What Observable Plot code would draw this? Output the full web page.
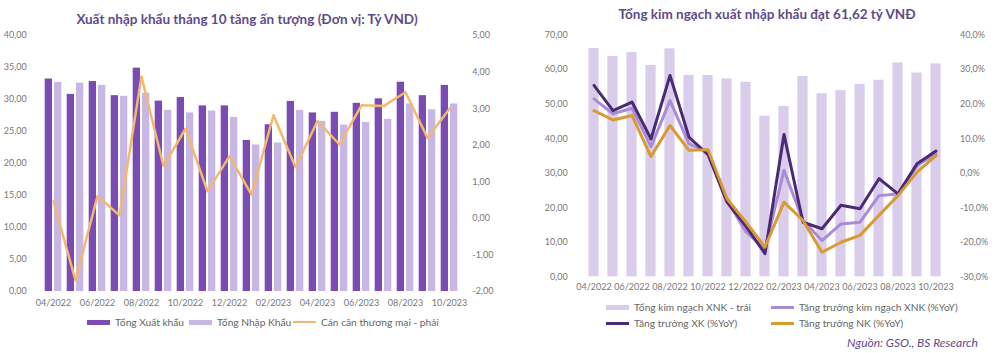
<!DOCTYPE html>
<html><head><meta charset="utf-8">
<script src="https://cdn.jsdelivr.net/npm/d3@7"></script>
<script src="https://cdn.jsdelivr.net/npm/@observablehq/plot@0.6"></script>
<style>
body{margin:0;background:#fff;font-family:Lato,"Open Sans",sans-serif;}
#wrap{position:relative;width:1000px;height:353px;overflow:hidden;background:#fff;}
.abs{position:absolute;}
.title{font-weight:700;font-size:13.5px;color:#5F4B8B;white-space:nowrap;transform:translateX(-50%);}
.leg{font-size:10.2px;color:#666;white-space:nowrap;display:flex;align-items:center;}
.sw{display:inline-block;width:23px;height:5px;margin-right:5px;}
.ln{display:inline-block;width:23px;height:2px;margin-right:5px;}
.src{font-size:12px;font-style:italic;color:#5F4B8B;white-space:nowrap;}
svg text{font-family:Lato,"Open Sans",sans-serif;}
</style></head>
<body><div id="wrap"></div>
<script>
const months = ["04/2022","05/2022","06/2022","07/2022","08/2022","09/2022","10/2022","11/2022","12/2022","01/2023","02/2023","03/2023","04/2023","05/2023","06/2023","07/2023","08/2023","09/2023","10/2023"];
// Left chart
const exportsT = [33.2,30.8,32.8,30.6,34.9,29.75,30.3,29.0,29.0,23.6,26.05,29.7,27.9,28.0,29.4,30.1,32.7,30.6,32.2];
const importsT = [32.65,32.55,32.2,30.5,31.0,28.3,27.9,28.2,27.2,22.9,23.2,28.3,26.6,26.0,26.4,26.9,29.3,28.4,29.3];
const balance = [0.47,-1.70,0.61,0.08,3.88,1.43,2.45,0.74,1.70,0.65,2.82,1.40,2.66,2.02,3.09,3.07,3.45,2.20,3.0];
const leftTicks = [0,5,10,15,20,25,30,35,40];
const balanceTicks = [-2,-1,0,1,2,3,4,5];
// Right chart
const totalTrade = [66.1,63.8,64.9,61.2,66.0,58.3,58.3,57.3,56.3,46.5,49.3,58.0,53.0,53.9,55.7,56.9,61.9,59.0,61.62];
const growthTotal = [21.5,17.2,18.8,7.7,21.0,8.5,6.1,-7.9,-17.0,-22.0,0.8,-13.7,-19.5,-14.7,-14.2,-6.5,-6.0,2.2,5.6];
const growthExport = [25.4,18.1,20.6,9.9,28.3,10.4,5.4,-8.4,-15.4,-23.3,11.2,-14.2,-16.1,-9.3,-10.3,-1.6,-6.0,2.7,6.4];
const growthImport = [18.1,15.4,16.7,4.8,13.8,6.6,6.8,-7.4,-14.2,-21.4,-8.4,-13.7,-22.9,-20.0,-18.0,-12.2,-6.5,0.3,5.1];
const rightLeftTicks = [0,10,20,30,40,50,60,70];
const growthTicks = [-30,-20,-10,0,10,20,30,40];

const C = {dark:"#7A4BB2", light:"#C8B6E3", orange:"#F2B872", lav:"#D9CDEB", xk:"#4B2A74", xnk:"#A98BD8", nk:"#D99A32", axis:"#777"};
const fmt2 = v => v.toFixed(2).replace(".", ",");
const fmtP = v => v.toFixed(1).replace(".", ",") + "%";
const xTicks = months.filter((d,i)=>i%2===0);
const wrap = document.getElementById("wrap");

function place(el, left, top){ el.style.position="absolute"; el.style.left=left+"px"; el.style.top=top+"px"; wrap.appendChild(el); }

// ---------- Left chart ----------
const bal2left = v => (v + 2) * 40 / 7;
const rowsL = months.map((m,i)=>({m, ex: exportsT[i], im: importsT[i], bal: bal2left(balance[i])}));
const p1 = Plot.plot({
  width: 500, height: 290,
  marginLeft: 39.7, marginRight: 37.2, marginTop: 10, marginBottom: 24,
  style: {fontSize: "9px", color: C.axis, background: "transparent"},
  x: {type: "band", domain: months, padding: 0, label: null},
  y: {domain: [0, 40], label: null},
  marks: [
    Plot.barY(rowsL, {x: "m", y: "ex", fill: C.dark, insetLeft: 2.7, insetRight: 12}),
    Plot.barY(rowsL, {x: "m", y: "im", fill: C.light, insetLeft: 12, insetRight: 2.7}),
    Plot.lineY(rowsL, {x: "m", y: "bal", stroke: C.orange, strokeWidth: 2.5}),
    Plot.axisX({ticks: xTicks, tickSize: 0, tickPadding: 8, fill: C.axis, label: null}),
    Plot.axisY({ticks: leftTicks, tickSize: 0, tickPadding: 13.5, tickFormat: fmt2, fill: C.axis, label: null}),
    Plot.axisY({anchor: "right", ticks: balanceTicks.map(bal2left), tickSize: 0, tickPadding: 9, tickFormat: v => fmt2(Math.round(v*7/40 - 2)), fill: C.axis, label: null})
  ]
});
place(p1, 0, 25);

// ---------- Right chart ----------
const g2left = p => p + 30;
const rowsR = months.map((m,i)=>({m, tot: totalTrade[i], gt: g2left(growthTotal[i]), ge: g2left(growthExport[i]), gi: g2left(growthImport[i])}));
const p2 = Plot.plot({
  width: 500, height: 275,
  marginLeft: 77.7, marginRight: 48.5, marginTop: 14.5, marginBottom: 18.7,
  style: {fontSize: "9px", color: C.axis, background: "transparent"},
  x: {type: "band", domain: months, padding: 0, label: null},
  y: {domain: [0, 70], label: null},
  marks: [
    Plot.barY(rowsR, {x: "m", y: "tot", fill: C.lav, insetLeft: 4.4, insetRight: 4.4}),
    Plot.lineY(rowsR, {x: "m", y: "gt", stroke: C.xnk, strokeWidth: 3}),
    Plot.lineY(rowsR, {x: "m", y: "ge", stroke: C.xk, strokeWidth: 3}),
    Plot.lineY(rowsR, {x: "m", y: "gi", stroke: C.nk, strokeWidth: 3}),
    Plot.axisX({ticks: xTicks, tickSize: 0, tickPadding: 7, fill: C.axis, label: null}),
    Plot.axisY({ticks: rightLeftTicks, tickSize: 0, tickPadding: 10.5, tickFormat: fmt2, fill: C.axis, label: null}),
    Plot.axisY({anchor: "right", ticks: growthTicks.map(g2left), tickSize: 0, tickPadding: 8, tickFormat: v => fmtP(v - 30), fill: C.axis, label: null})
  ]
});
place(p2, 500, 20);

// ---------- Titles, legends, source ----------
function div(cls, html, left, top){ const d=document.createElement("div"); d.className="abs "+cls; d.innerHTML=html; d.style.left=left+"px"; d.style.top=top+"px"; wrap.appendChild(d); return d; }
div("title", "Xuất nhập khẩu tháng 10 tăng ấn tượng (Đơn vị: Tỷ VND)", 247, 11);
div("title", "Tổng kim ngạch xuất nhập khẩu đạt 61,62 tỷ VNĐ", 767, 6);

div("leg", `<span class="sw" style="background:${C.dark}"></span>Tổng Xuất khẩu`, 87, 316);
div("leg", `<span class="sw" style="background:${C.light}"></span>Tổng Nhập Khẩu`, 189, 316);
div("leg", `<span class="ln" style="background:${C.orange}"></span>Cán cân thương mại - phải`, 293, 316);

div("leg", `<span class="sw" style="background:${C.lav}"></span>Tổng kim ngạch XNK - trái`, 606, 301);
div("leg", `<span class="ln" style="height:3px;background:${C.xnk}"></span>Tăng trưởng kim ngạch XNK (%YoY)`, 771, 301);
div("leg", `<span class="ln" style="height:3px;background:${C.xk}"></span>Tăng trưởng XK (%YoY)`, 606, 317);
div("leg", `<span class="ln" style="height:3px;background:${C.nk}"></span>Tăng trưởng NK (%YoY)`, 771, 317);
div("src", "Nguồn: GSO., BS Research", 847, 335);
</script></body></html>
